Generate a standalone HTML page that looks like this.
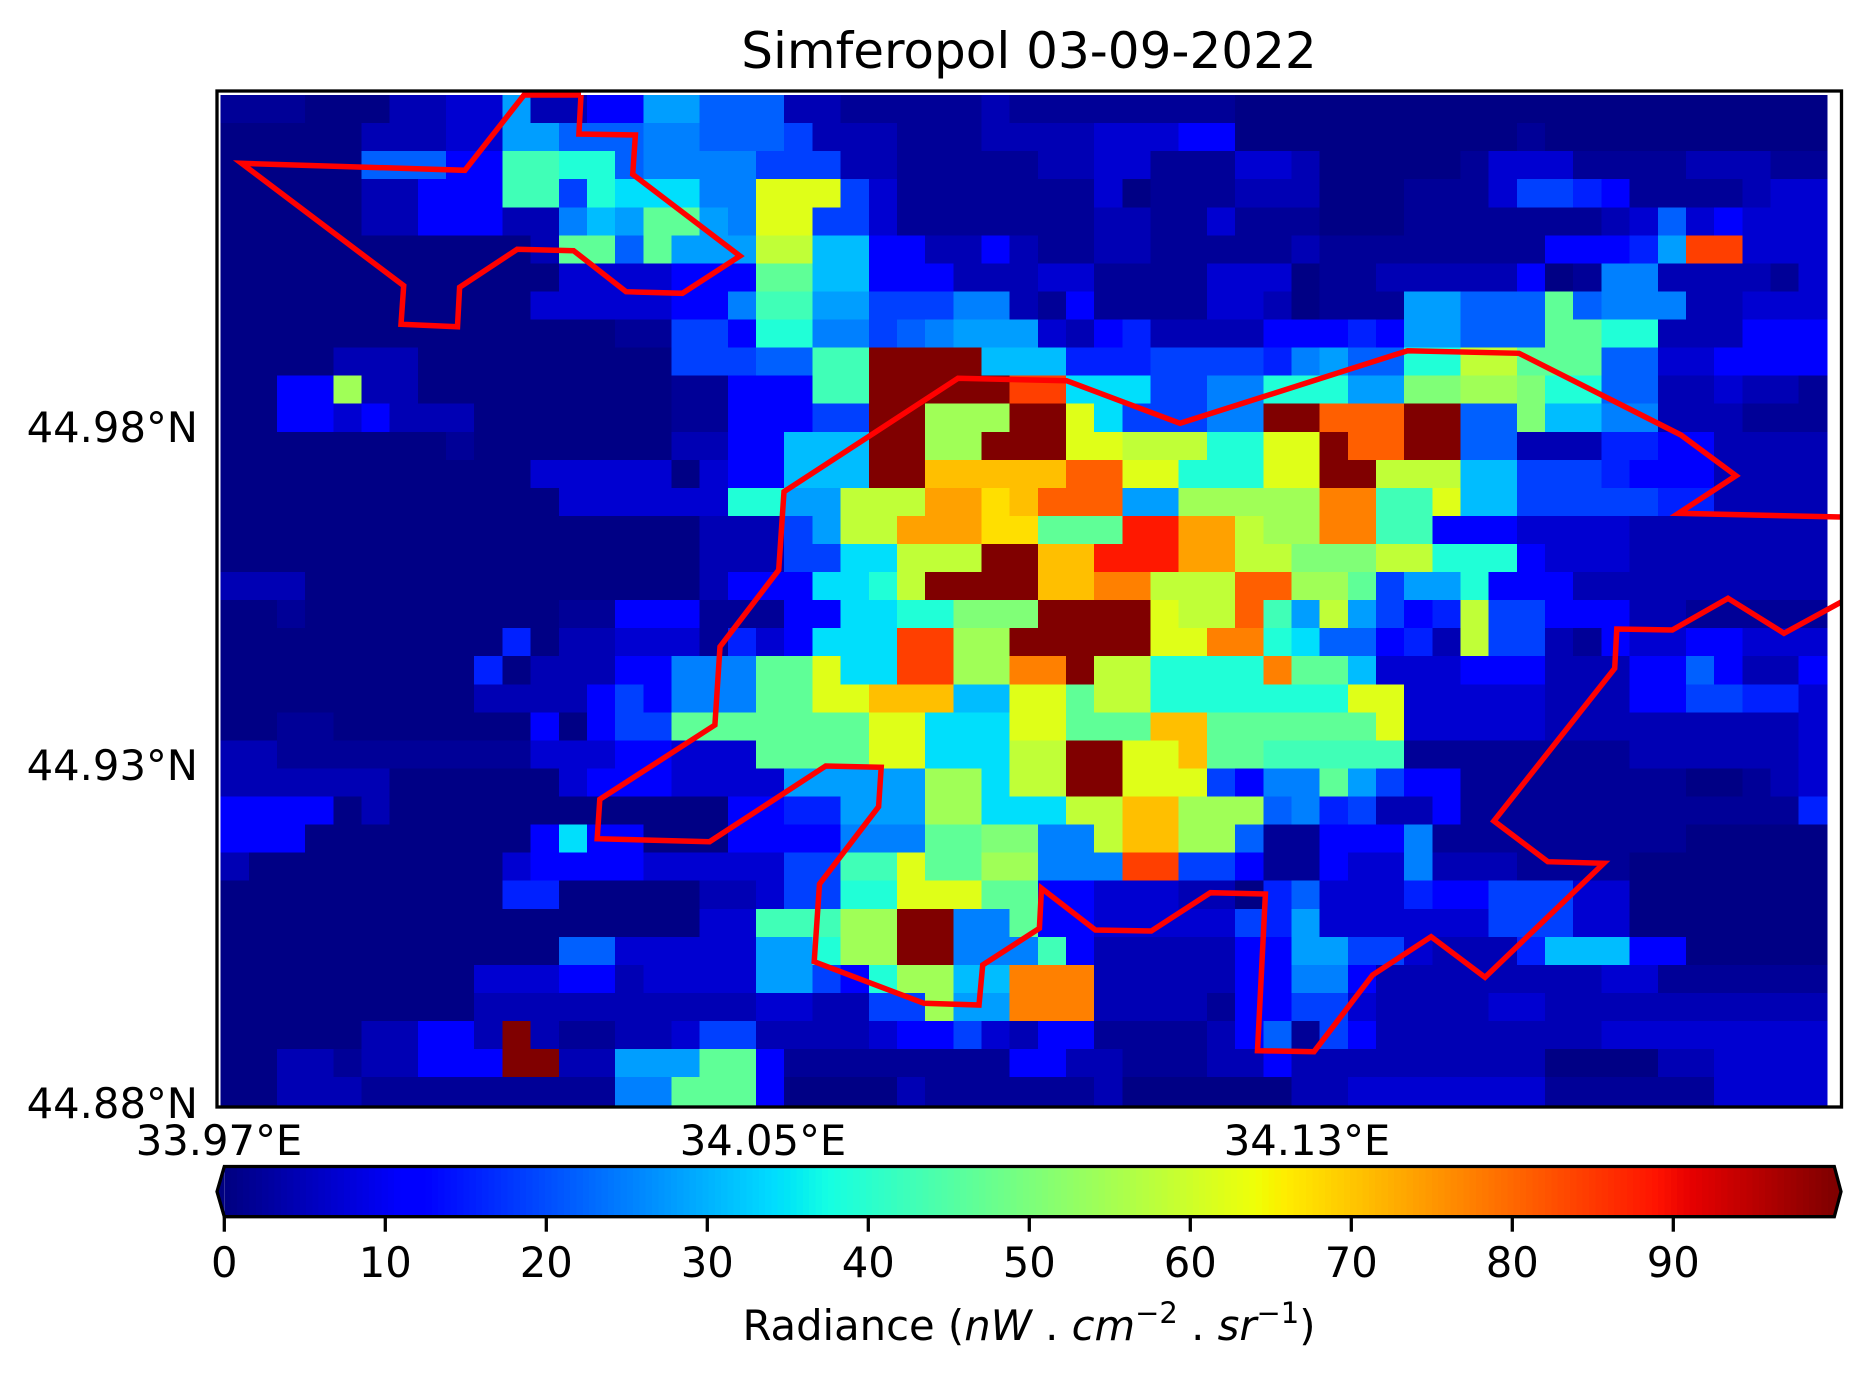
<!DOCTYPE html>
<html><head><meta charset="utf-8"><title>Simferopol 03-09-2022</title>
<style>
html,body{margin:0;padding:0;background:#fff;}
svg{display:block;}
text{font-family:"DejaVu Sans","Liberation Sans",sans-serif;fill:#000;}
</style></head>
<body>
<svg id="fig" xmlns="http://www.w3.org/2000/svg" width="1870" height="1379" viewBox="0 0 1870 1379">
  <rect x="0" y="0" width="1870" height="1379" fill="#fff"/>
  <text x="1029" y="68" font-size="50" text-anchor="middle">Simferopol 03-09-2022</text>
  <defs><clipPath id="mapclip"><rect x="217" y="91" width="1624.5" height="1016"/></clipPath></defs>
  <g id="heatmap" shape-rendering="crispEdges"></g>
  <g id="boundaries" clip-path="url(#mapclip)"></g>
  <rect x="217" y="91" width="1624.5" height="1016" fill="none" stroke="#000" stroke-width="3.3"/>
  <g id="yticks"></g>
  <g id="xticks"></g>
  <g id="colorbar" shape-rendering="crispEdges"></g>
  <g id="cbticks"></g>
  <text x="1029" y="1340" font-size="41.7" text-anchor="middle">Radiance (<tspan font-style="italic">nW</tspan> . <tspan font-style="italic">cm</tspan><tspan font-size="29" dy="-17">−2</tspan><tspan dy="17"> . </tspan><tspan font-style="italic">sr</tspan><tspan font-size="29" dy="-17">−1</tspan><tspan dy="17">)</tspan></text>
</svg>
<script>
// ---- data ----
const radianceRows = [
"aaa000bbccibbddiigggbbaaaaaba"+"aaaaaaa000000000000000000000",
"00000bbbcciiggghhgggfbbbaaabb"+"bbcccdd0000000000a0000000000",
"00000gggddmmllghhhhfffbbaaaaa"+"bbccaaaccb00000acccaaaabbbaa",
"00000bbdddmmflkkkhhrrrfcaaaaa"+"aac0aaabbb000aaacffedaaaabcc",
"00000bbdddbbhjinnihrrffcaaaaa"+"aabbaacaaa000aaaaaaabcgcdccc",
"00000000000bnngniiiqqjjddbbdb"+"aabbaaaaabaaaaaaaadddeixxccc",
"000000000000ccccdddnnjjdddbbb"+"ccaaaaccc0aabbbbbd0ahhbbbbac",
"00000000000cccccddhmmiifffhhb"+"adaaaaccb0aaaiigggnghhhbbccc",
"00000000000000aaffdllhhfghiii"+"cbdebbbbdddediigggnnllbbbddd",
"0000bbb000000000fffggmmzzzzjj"+"jeeeffffehiggllqqnnnggccdddd",
"00ddpbb000000000aadddmmzzzzzx"+"xkkkffhhllliiooppollggbbcbba",
"00ddcdbbb0000000aadddffzzpppz"+"zrkfffhhzzwwwzzggojjhhbbbaaa",
"00000000a0000000bbddjjjzzppzz"+"zrrqqqllrrzwwzzggbbbeeddbbbb",
"00000000000ccccc0cddjjjzztttt"+"twwrrlllrrzzqqqjjfffedddbbbb",
"000000000000cccccclliiqqquust"+"wwwiipppppvvmmrjjfffffeebbbb",
"00000000000000000bbbfiqquuuss"+"nnnyyuuqppvvmmdddccccbbbbbbb",
"00000000000000000bbbffkkqqqzz"+"ttyyyuuqqoooqqllldcccbbbbbbb",
"bbb00000000000000bdddkklqzzzz"+"ttvvqqqwwppnfiildddbbbbbbbbb",
"00a000000000aadddaaaddkkllooo"+"zzzzrqqwmiqifdeqffdddbbaaaaa",
"0000000000e0bbcccaecdkkkxxppz"+"zzzzrrvvlkggdebqffbadccddccc",
"000000000e0bbbddhhhnnrkkxxppv"+"vzqqllllvnnjcccdddbbbddgdbbd",
"000000000bbbbdfdhhhnnrrtttjjr"+"rnqqlllllllrrcccccbbbddffeec",
"00aa0000000d0dffnnnnnnnrrkkkr"+"rnnnttnnnnnnrcccccbbbbbbbbbc",
"bbaaaaaaaaacccddcccnnnnrrkkkq"+"qzzrrtnnmmmmmaaaaaaaabbbbbbc",
"bbbbbb000000cdddcccciiiiippkq"+"qzzrrrfdhhnifddaaaaaaaa00abc",
"dddd0b000000000000ddeeiiippkk"+"kqqttpppghefbbdaaaaaaaaaaaae",
"ddd00000000dkdd000ddddhhhnnoo"+"hhqttppgaadddhaaaaaaaaa00000",
"b000000000cddddcccccffmmrnnpp"+"hhhxxffdaadcchbbbaaaa0000000",
"0000000000ee00000bbcffllrrrnn"+"ddcccbb0egccceddfffcc0000000",
"00000000000000000ccmmmppzzhhn"+"ddcccccfeiccccccfffcc0000000",
"000000000000ggccccciilppzzhhh"+"mdbbbbbddiiffcbbbejjjdd00000",
"000000000cccddbcccciifdlppjjv"+"vvbbbbbddhhdbbbbbbbbccaaaaaa",
"000000000bbbbbbbbbbccbbffpiiv"+"vvbbbbaddffcbbbbccbbbbbbbbbb",
"00000bbddbzbaabbcffbbbbcddfcb"+"ddaaaabdgafdbbbbbbbbcccccccc",
"00bbabbdddzzbbiiinndaaaaaaaad"+"dbbaaabbdbbbbbbbbb0000bbcccc",
"00bbbaaaaaaaaahhnnnd0000baaaa"+"aab000000bbcccccccaaaaaacccc"
];
// radiance (nW cm-2 sr-1) for each cell code
const levelValues = {"0":0.5,a:2,b:4.5,c:7,d:12,e:15.6,f:18.8,g:21.9,h:25,i:28,j:31,k:34.4,l:38.9,m:42.8,n:46.6,o:50.5,p:54.4,q:58.3,r:62.1,s:67.4,t:70.8,u:74,v:77.5,w:80.9,x:84.3,y:88.5,z:100};
// grid geometry in degrees
const gridLon0 = 33.97024, gridDLon = 0.004144, gridLat0 = 45.02911, gridDLat = 0.004151;
const yTickLats = [44.98, 44.93, 44.88];
const yTickLabels = ["44.98°N", "44.93°N", "44.88°N"];
const xTickLons = [33.97, 34.05, 34.13];
const xTickLabels = ["33.97°E", "34.05°E", "34.13°E"];
const cbTicks = [0, 10, 20, 30, 40, 50, 60, 70, 80, 90];
const cbMin = 0, cbMax = 100;
const boundaryWestLon = [34.02324,34.02293,34.03124,34.03084,34.04662,34.03815,34.02985,34.02215,34.01385,34.00538,34.00507,33.99676,33.99716,33.97331,34.00616,34.01485,34.02324];
const boundaryWestLat = [45.02911,45.02334,45.02320,45.01738,45.00530,44.99978,45.00001,45.00608,45.00629,45.00067,44.99484,44.99519,45.00090,45.01901,45.01797,45.02911,45.02911];
const boundaryMainLon = [34.20853,34.18463,34.19309,34.18500,34.16118,34.14479,34.11132,34.09465,34.07868,34.05309,34.05231,34.04368,34.04293,34.02600,34.02562,34.04215,34.05922,34.06738,34.06700,34.05831,34.05753,34.07368,34.08176,34.08231,34.09065,34.09096,34.09888,34.10710,34.11579,34.12388,34.12272,34.13103,34.13965,34.14825,34.15618,34.17363,34.16541,34.15749,34.17525,34.17556,34.18372,34.19191,34.20015,34.20912];
const boundaryMainLat = [44.96669,44.96723,44.97280,44.97882,44.99090,44.99129,44.98055,44.98685,44.98720,44.97043,44.95885,44.94750,44.93592,44.92493,44.91910,44.91865,44.92985,44.92966,44.92383,44.91240,44.90090,44.89475,44.89450,44.90041,44.90584,44.91176,44.90559,44.90544,44.91111,44.91092,44.88774,44.88759,44.89893,44.90460,44.89859,44.91546,44.91570,44.92172,44.94430,44.95012,44.94997,44.95466,44.94948,44.95441];

// ---- axes ----
const NS = "http://www.w3.org/2000/svg";
function xOf(lon){ return 219 + (lon - 33.97) * 6800; }
function yOf(lat){ return 1103 - (lat - 44.88) * 6760; }
function cbX(v){ return 224.3 + (v - cbMin) / (cbMax - cbMin) * 1610; }
function interp(pts, t){
  for (let i = 1; i < pts.length; i++) {
    if (t <= pts[i][0]) { const a = pts[i-1], b = pts[i]; return a[1] + (b[1]-a[1]) * (t-a[0]) / (b[0]-a[0]); }
  }
  return pts[pts.length-1][1];
}
function jet(v){
  const t = Math.max(0, Math.min(1, (v - cbMin) / (cbMax - cbMin)));
  const r = interp([[0,0],[0.35,0],[0.66,1],[0.89,1],[1,0.5]], t);
  const g = interp([[0,0],[0.125,0],[0.375,1],[0.64,1],[0.91,0],[1,0]], t);
  const b = interp([[0,0.5],[0.11,1],[0.34,1],[0.65,0],[1,0]], t);
  return "rgb(" + Math.round(r*255) + "," + Math.round(g*255) + "," + Math.round(b*255) + ")";
}
function mk(tag, attrs){ const e = document.createElementNS(NS, tag); for (const k in attrs) e.setAttribute(k, attrs[k]); return e; }

// heatmap
const hm = document.getElementById("heatmap");
radianceRows.forEach(function(row, r){
  for (let c = 0; c < row.length; c++) {
    const v = levelValues[row[c]];
    if (v === undefined) continue;
    const x0 = xOf(gridLon0 + c * gridDLon), x1 = xOf(gridLon0 + (c + 1) * gridDLon);
    const y0 = yOf(gridLat0 - r * gridDLat), y1 = yOf(gridLat0 - (r + 1) * gridDLat);
    const el = mk("rect", {x: x0.toFixed(2), y: y0.toFixed(2), width: (x1 - x0 + 0.6).toFixed(2), height: (y1 - y0 + 0.6).toFixed(2), fill: jet(v)});
    
    
    hm.appendChild(el);
  }
});

// boundaries
const bd = document.getElementById("boundaries");
function drawLine(lons, lats, name){
  const pts = lons.map(function(lon, i){ return xOf(lon).toFixed(1) + "," + yOf(lats[i]).toFixed(1); }).join(" ");
  const el = mk("polyline", {points: pts, fill: "none", stroke: "#ff0000", "stroke-width": "5.5", "stroke-linejoin": "miter"});
  
  
  bd.appendChild(el);
}
drawLine(boundaryWestLon, boundaryWestLat, 'boundary-west');
drawLine(boundaryMainLon, boundaryMainLat, 'boundary-city');

// y tick labels
const yt = document.getElementById("yticks");
yTickLats.forEach(function(lat, i){
  const el = mk("text", {x: 198, y: (yOf(lat) + 15).toFixed(1), "font-size": "41.7", "text-anchor": "end"});
  el.textContent = yTickLabels[i];
  
  
  yt.appendChild(el);
});
// x tick labels
const xt = document.getElementById("xticks");
xTickLons.forEach(function(lon, i){
  const el = mk("text", {x: xOf(lon).toFixed(1), y: 1155, "font-size": "41.7", "text-anchor": "middle"});
  el.textContent = xTickLabels[i];
  
  
  xt.appendChild(el);
});

// colorbar
const cb = document.getElementById("colorbar");
const cbTop = 1166.5, cbBot = 1216.7, cbMid = (cbTop + cbBot) / 2;
const nSteps = 256;
for (let i = 0; i < nSteps; i++) {
  const v0 = cbMin + (cbMax - cbMin) * i / nSteps, v1 = cbMin + (cbMax - cbMin) * (i + 1) / nSteps;
  const el = mk("rect", {x: cbX(v0).toFixed(2), y: cbTop, width: (cbX(v1) - cbX(v0) + 0.5).toFixed(2), height: cbBot - cbTop, fill: jet((v0 + v1) / 2)});
  
  
  cb.appendChild(el);
}
const under = mk("polygon", {points: cbX(cbMin) + "," + cbTop + " 217," + cbMid + " " + cbX(cbMin) + "," + cbBot, fill: jet(cbMin), "shape-rendering": "auto"});


cb.appendChild(under);
const over = mk("polygon", {points: cbX(cbMax) + "," + cbTop + " 1841," + cbMid + " " + cbX(cbMax) + "," + cbBot, fill: jet(cbMax), "shape-rendering": "auto"});


cb.appendChild(over);
const outline = mk("polygon", {points: cbX(cbMin) + "," + cbTop + " " + cbX(cbMax) + "," + cbTop + " 1841," + cbMid + " " + cbX(cbMax) + "," + cbBot + " " + cbX(cbMin) + "," + cbBot + " 217," + cbMid, fill: "none", stroke: "#000", "stroke-width": "3.3", "shape-rendering": "auto"});


cb.appendChild(outline);

const ct = document.getElementById("cbticks");
cbTicks.forEach(function(v){
  const x = cbX(v);
  const tk = mk("line", {x1: x, x2: x, y1: cbBot, y2: cbBot + 15, stroke: "#000", "stroke-width": "3.3"});
  
  
  ct.appendChild(tk);
  const tl = mk("text", {x: x.toFixed(1), y: 1277, "font-size": "41.7", "text-anchor": "middle"});
  tl.textContent = String(v);
  
  
  ct.appendChild(tl);
});
</script>
</body></html>
